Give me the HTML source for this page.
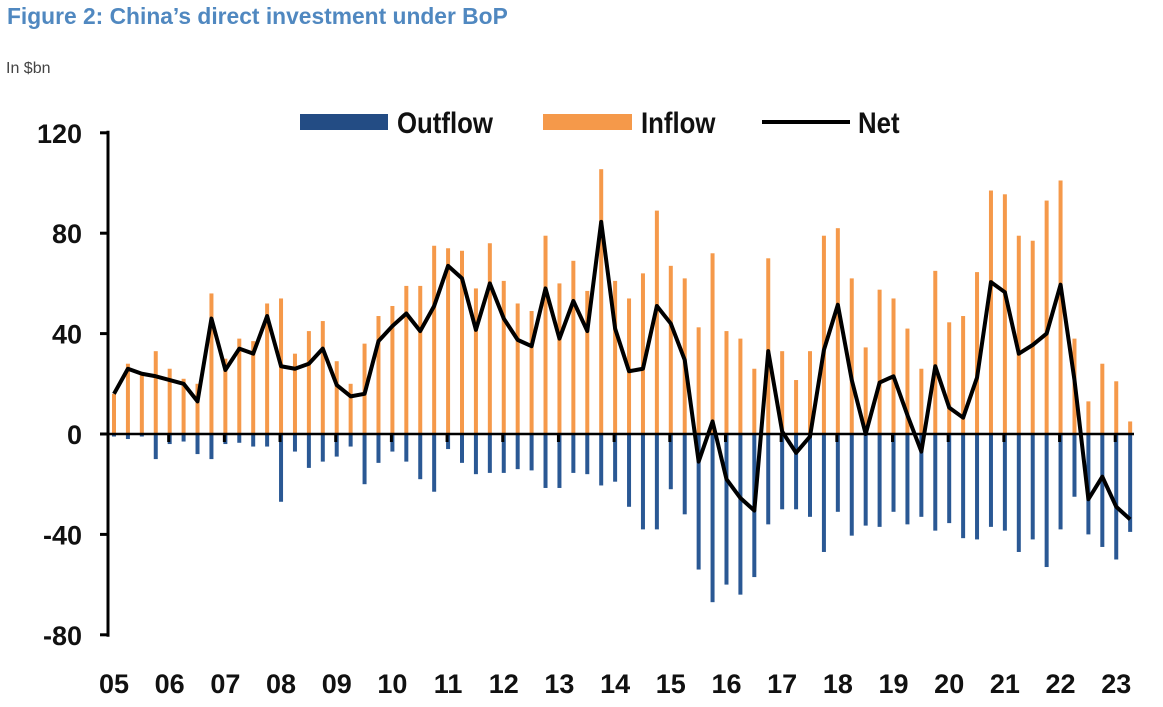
<!DOCTYPE html>
<html><head><meta charset="utf-8"><style>
body{margin:0;background:#fff;width:1163px;height:702px;overflow:hidden;font-family:"Liberation Sans",Arial,sans-serif}
</style></head><body>
<svg id="chart" width="1163" height="702">
<text x="7" y="24" font-size="22.8" font-weight="bold" fill="#5088c0">Figure 2: China’s direct investment under BoP</text>
<text x="6" y="73" font-size="16" fill="#444">In $bn</text>
<g>
<rect x="300" y="114" width="88" height="16" fill="#234c84"/>
<text x="397" y="133" font-size="30" font-weight="bold" fill="#111" transform="translate(397 0) scale(0.86 1) translate(-397 0)">Outflow</text>
<rect x="543" y="114" width="89" height="16" fill="#f5994a"/>
<text x="641" y="133" font-size="30" font-weight="bold" fill="#111" transform="translate(641 0) scale(0.86 1) translate(-641 0)">Inflow</text>
<line x1="762" y1="122" x2="850" y2="122" stroke="#000" stroke-width="4"/>
<text x="858" y="133" font-size="30" font-weight="bold" fill="#111" transform="translate(858 0) scale(0.86 1) translate(-858 0)">Net</text>
</g>
<g id="plot"></g>
</svg>
<script>
const years = ["05","06","07","08","09","10","11","12","13","14","15","16","17","18","19","20","21","22","23"];
const yTicks = [120,80,40,0,-40,-80];
const inflow = [16,28,24,33,26,22,20,56,30,38,37,52,54,32,41,45,29,20,36,47,51,59,59,75,74,73,58,76,61,52,49,79,60,69,57,105.5,61,54,64,89,67,62,42.5,72,41,38,26,70,33,21.5,33,79,82,62,34.5,57.5,54,42,26,65,44.5,47,64.5,97,95.5,79,77,93,101,38,13,28,21,5];
const outflow = [-1,-2,-1,-10,-4,-3,-8,-10,-4,-3.5,-5,-5,-27,-7,-13.5,-11,-9,-5,-20,-11.5,-7,-11,-18,-23,-6,-11.5,-16,-15.5,-15.5,-14,-14.5,-21.5,-21.5,-15.5,-16,-20.5,-19,-29,-38,-38,-22,-32,-54,-67,-60,-64,-57,-36,-30,-30,-33,-47,-31,-40.5,-36.5,-37,-31,-36,-33,-38.5,-35.5,-41.5,-42,-37,-38.5,-47,-42,-53,-38,-25,-40,-45,-50,-39];
const net = [16,26,24,23,21.5,20,13,46,25.5,34,32,47,27,26,28,34,19.5,15,16,37,43,48,41,51,67,62,41.5,60,46,37.5,35,58,38,53,41,84.5,42,25,26,51,44,29.5,-11,5,-18,-25.5,-30.5,33,1,-7.5,-1,33.5,51.5,21.5,0,20.5,23,7.5,-7,27,10.5,6.5,22.5,60.5,56.5,32,35.5,40,59.5,21.5,-26,-17,-29,-34];

const NS="http://www.w3.org/2000/svg";
const plot=document.getElementById('plot');
const xPos=i=>114+i*13.92;
const yPos=v=>434-v*2.51;
function mk(tag,attrs){const e=document.createElementNS(NS,tag);for(const k in attrs)e.setAttribute(k,attrs[k]);plot.appendChild(e);return e;}

yTicks.forEach(t=>{
  const tl=mk('line',{x1:100,x2:108,y1:yPos(t),y2:yPos(t),stroke:'#000','stroke-width':3});
  
  
  const tx=mk('text',{x:82,y:yPos(t)+10,'text-anchor':'end','font-size':27,'font-weight':'bold',fill:'#111'});
  tx.textContent=t;
  
  
});
const ax=mk('line',{x1:108,x2:108,y1:yPos(120)-2,y2:yPos(-80)+2,stroke:'#000','stroke-width':3});



inflow.forEach((v,i)=>{
  const r=mk('rect',{x:xPos(i)-2,width:4,y:Math.min(yPos(v),yPos(0)),height:Math.abs(yPos(v)-yPos(0)),fill:'#f5994a'});
  
  
});
outflow.forEach((v,i)=>{
  const r=mk('rect',{x:xPos(i)-2,width:4,y:yPos(0),height:Math.abs(yPos(v)-yPos(0)),fill:'#2a5894'});
  
  
});
const zl=mk('line',{x1:108,x2:1134,y1:yPos(0),y2:yPos(0),stroke:'#000','stroke-width':2.5});


years.forEach((y,k)=>{
  const x=xPos(k*4);
  if(k>0){
    const tk=mk('line',{x1:x-1,x2:x-1,y1:yPos(0),y2:yPos(0)+8,stroke:'#000','stroke-width':3});
    
    
  }
  const tx=mk('text',{x:x,y:693,'text-anchor':'middle','font-size':27,'font-weight':'bold',fill:'#111'});
  tx.textContent=y;
  
  
});
const pl=mk('polyline',{points:net.map((v,i)=>xPos(i)+','+yPos(v)).join(' '),fill:'none',stroke:'#000','stroke-width':4,'stroke-linejoin':'round'});


</script>
</body></html>
